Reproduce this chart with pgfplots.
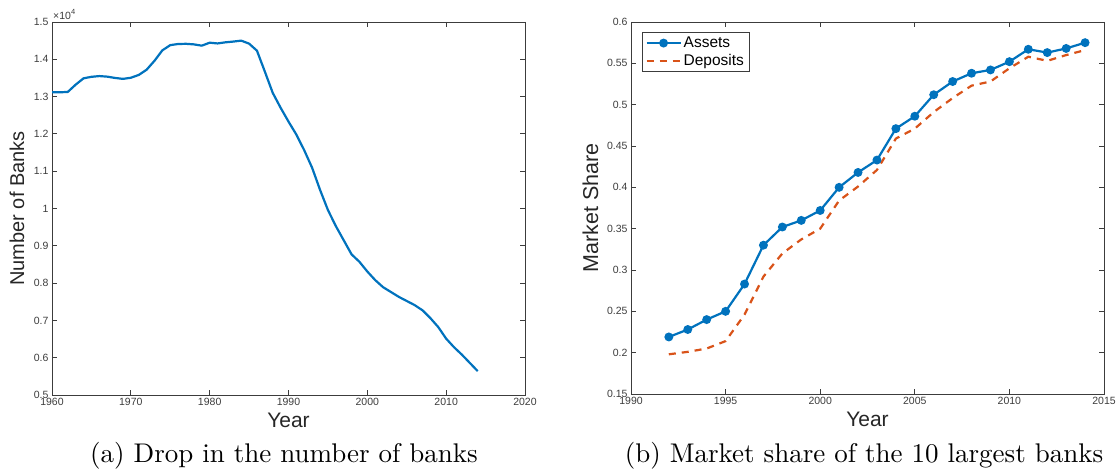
\documentclass[border=0pt]{standalone}
\usepackage{fontspec}
\usepackage{pgfplots}
\pgfplotsset{compat=1.18}
\newfontfamily\arial{Liberation Sans}
\newfontfamily\capfont{lmroman10-regular.otf}
\definecolor{mblue}{RGB}{0,114,189}
\definecolor{morange}{RGB}{217,83,25}
\definecolor{axgray}{RGB}{60,60,60}

\pgfplotstableread{
year banks
1960 13115
1961 13115
1962 13125
1963 13320
1964 13490
1965 13530
1966 13550
1967 13535
1968 13500
1969 13475
1970 13505
1971 13580
1972 13720
1973 13960
1974 14240
1975 14380
1976 14410
1977 14415
1978 14400
1979 14365
1980 14445
1981 14425
1982 14455
1983 14475
1984 14500
1985 14420
1986 14230
1987 13670
1988 13100
1989 12700
1990 12330
1991 11980
1992 11560
1993 11090
1994 10500
1995 9960
1996 9530
1997 9150
1998 8770
1999 8570
2000 8310
2001 8080
2002 7890
2003 7760
2004 7630
2005 7520
2006 7410
2007 7270
2008 7060
2009 6820
2010 6510
2011 6280
2012 6080
2013 5860
2014 5640
}\banks

\pgfplotstableread{
year assets deposits
1992 0.219 0.198
1993 0.228 0.201
1994 0.240 0.205
1995 0.250 0.214
1996 0.283 0.246
1997 0.330 0.292
1998 0.352 0.320
1999 0.360 0.337
2000 0.372 0.350
2001 0.400 0.384
2002 0.418 0.401
2003 0.433 0.421
2004 0.471 0.459
2005 0.486 0.471
2006 0.512 0.491
2007 0.528 0.508
2008 0.538 0.523
2009 0.542 0.528
2010 0.552 0.544
2011 0.567 0.558
2012 0.563 0.553
2013 0.568 0.560
2014 0.575 0.566
}\share

\pgfplotsset{
  mystyle/.style={
    scale only axis, anchor=south west,
    axis line style={draw=axgray, line width=0.9pt},
    tick style={draw=axgray, line width=0.8pt},
    tick align=inside, major tick length=5pt,
    xtick pos=both, ytick pos=both,
    minor tick num=0,
    /pgf/number format/assume math mode=true,
    /pgf/number format/1000 sep={},
    ticklabel style={font=\arial\fontsize{10.5}{12}\selectfont, text=axgray},
    every axis x label/.style={at={([yshift=-33pt]axis description cs:0.5,0)}, anchor=base, font=\arial\fontsize{21}{24}\selectfont, text=black!85},
    every axis y label/.style={at={([xshift=-28pt]axis description cs:0,0.5)}, rotate=90, anchor=base, font=\arial\fontsize{20}{24}\selectfont, text=black!85},
  }
}

\begin{document}
\begin{tikzpicture}
\useasboundingbox (0,0) rectangle (1117pt,470pt);

\begin{axis}[mystyle,
  at={(52pt,75pt)}, width=473pt, height=373pt,
  xmin=1960, xmax=2020, xtick={1960,1970,...,2020},
  ymin=5000, ymax=15000, ytick={5000,6000,...,15000},
  scaled y ticks=base 10:-4,
  ytick scale label code/.code={\arial\fontsize{10.5}{10}\selectfont ×10\raisebox{0.45em}{\fontsize{7.5}{8}\selectfont 4}},
  every y tick scale label/.style={at={(axis description cs:0,1)}, anchor=south west, inner sep=0pt, yshift=2pt, xshift=1pt, text=axgray},
  xlabel={Year}, ylabel={Number of Banks},
]
\addplot[mblue, line width=2.2pt, line join=round] table[x=year, y=banks] {\banks};
\end{axis}

\begin{axis}[mystyle,
  at={(631pt,76pt)}, width=473pt, height=372pt,
  xmin=1990, xmax=2015, xtick={1990,1995,...,2015},
  ymin=0.15, ymax=0.6, ytick={0.15,0.2,0.25,0.3,0.35,0.4,0.45,0.5,0.55,0.6},
  xlabel={Year}, ylabel={Market Share},
  every axis y label/.style={at={([xshift=-33pt]axis description cs:0,0.5)}, rotate=90, anchor=base, font=\arial\fontsize{21.5}{24}\selectfont, text=black!85},
  legend image code/.code={\draw[mark repeat=2,mark phase=2,#1] plot coordinates {(0pt,0pt)(17pt,0pt)(34pt,0pt)};},
  legend style={at={(axis description cs:0.0233,0.973)}, anchor=north west,
    draw=axgray, line width=0.9pt, font=\arial\fontsize{15.5}{16}\selectfont,
    inner xsep=3pt, inner ysep=2.5pt, row sep=1.5pt, cells={anchor=west},
    nodes={inner sep=2pt}},
  legend cell align=left,
]
\addplot[mblue, line width=2.2pt, mark=*, mark size=3.3pt, mark options={solid, fill=mblue, draw=mblue}] table[x=year, y=assets] {\share};
\addlegendentry{Assets}
\addplot[morange, line width=2.2pt, dash pattern=on 7pt off 6pt] table[x=year, y=deposits] {\share};
\addlegendentry{Deposits}
\end{axis}

\node[anchor=base, font=\capfont\fontsize{27}{32}\selectfont] at (284pt,7pt) {(a) Drop in the number of banks};
\node[anchor=base, font=\capfont\fontsize{27}{32}\selectfont] at (864pt,7pt) {(b) Market share of the 10 largest banks};
\end{tikzpicture}
\end{document}
